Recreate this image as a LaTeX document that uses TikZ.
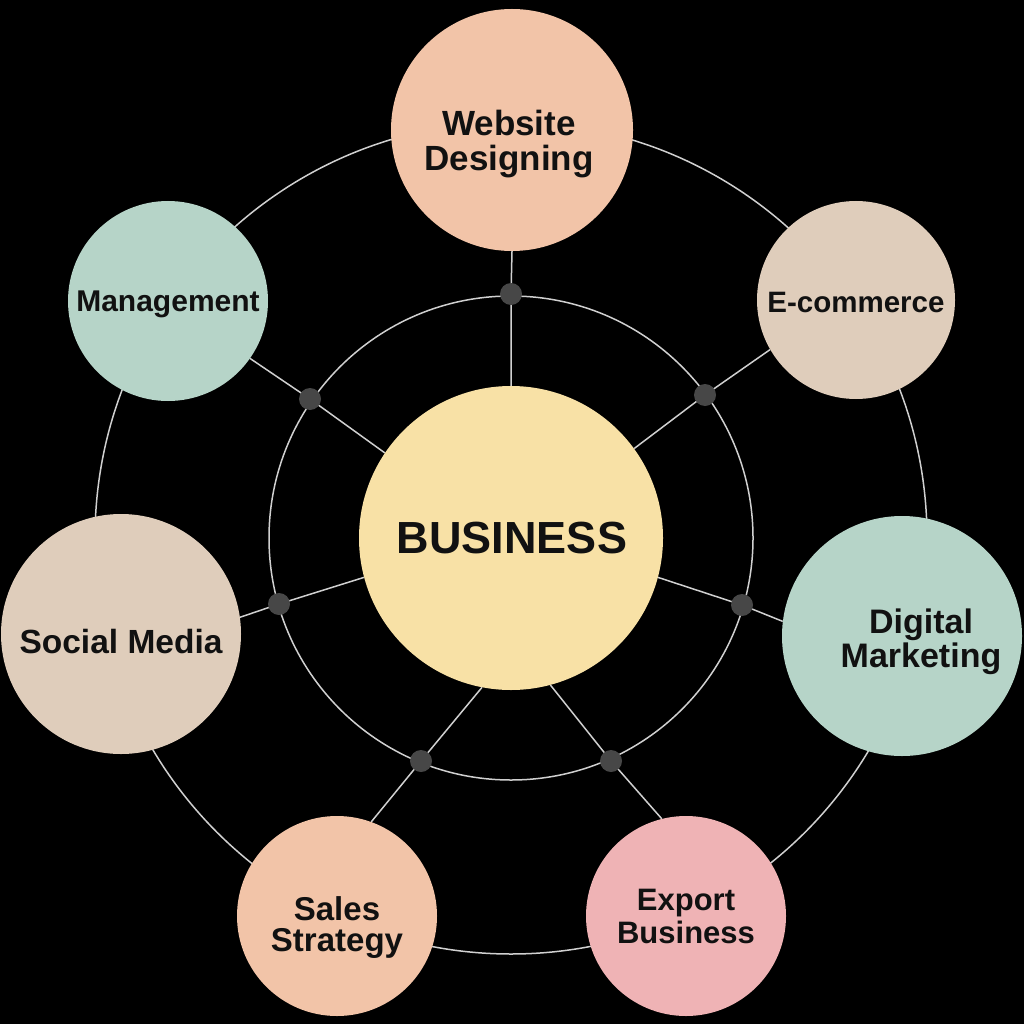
\documentclass[tikz,border=0pt]{standalone}
\usepackage{fontspec}
\setmainfont{Liberation Sans}
\usetikzlibrary{backgrounds}
\definecolor{bgc}{HTML}{000000}
\definecolor{peach}{HTML}{F2C4A8}
\definecolor{beige}{HTML}{DFCDBB}
\definecolor{mint}{HTML}{B6D4C8}
\definecolor{pinkc}{HTML}{EFB3B5}
\definecolor{yel}{HTML}{F8E1A6}
\definecolor{dotc}{HTML}{474747}
\definecolor{linec}{HTML}{D0D0D0}
\definecolor{txt}{HTML}{111111}
\begin{document}
\begin{tikzpicture}[x=1pt,y=-1pt,
  bubble/.style={circle,draw=none,inner sep=0pt,minimum size=#1},
  dotn/.style={circle,fill=dotc,draw=none,inner sep=0pt,minimum size=22pt},
  ringline/.style={draw=linec,line width=1.5pt},
  spoke/.style={draw=linec,line width=1.5pt},
  lbl/.style={text=txt,font=\bfseries\fontsize{#1}{#1}\selectfont,inner sep=0pt,anchor=base}]
\useasboundingbox (0,0) rectangle (1024,1024);

% circles
\node[bubble=304pt,fill=yel] (biz) at (511,538) {};
\node[bubble=242pt,fill=peach] (web) at (512,130) {};
\node[bubble=198pt,fill=beige] (ecom) at (856,300) {};
\node[bubble=200pt,fill=mint] (man) at (168,301) {};
\node[bubble=240pt,fill=beige] (soc) at (121,634) {};
\node[bubble=240pt,fill=mint] (dig) at (902,636) {};
\node[bubble=200pt,fill=peach] (sal) at (337,916) {};
\node[bubble=200pt,fill=pinkc] (exp) at (686,916) {};

% junction dots
\node[dotn] (d1) at (511,294) {};
\node[dotn] (d2) at (705,395) {};
\node[dotn] (d3) at (742,605) {};
\node[dotn] (d4) at (611,761) {};
\node[dotn] (d5) at (421,761) {};
\node[dotn] (d6) at (279,604) {};
\node[dotn] (d7) at (310,399) {};

% labels
\node[lbl=45] (tbiz) at (512,553) {BUSINESS};
\node[lbl=35] (tweb1) at (509,136) {Website};
\node[lbl=35] (tweb2) at (509,171) {Designing};
\node[lbl=29.5] (tecom) at (856,312) {E-commerce};
\node[lbl=30] (tman) at (168,311) {Management};
\node[lbl=33.5] (tsoc) at (121,653) {Social Media};
\node[lbl=34] (tdig1) at (921,633) {Digital};
\node[lbl=34] (tdig2) at (921,667) {Marketing};
\node[lbl=33] (tsal1) at (337,920) {Sales};
\node[lbl=33] (tsal2) at (337,951) {Strategy};
\node[lbl=31] (texp1) at (686,910) {Export};
\node[lbl=31] (texp2) at (686,943) {Business};

% rings and spokes behind everything
\begin{scope}[on background layer]
\fill[bgc] (0,0) rectangle (1024,1024);
\draw[ringline] (biz.center) circle[radius=416pt];
\draw[ringline] (biz.center) circle[radius=242pt];
\draw[spoke] (biz.90) -- (d1.center) -- (web.270);
\draw[spoke] (biz.36) -- (d2.center) -- (ecom.210);
\draw[spoke] (biz.-15) -- (d3.center) -- (dig.173);
\draw[spoke] (biz.-75) -- (d4.center) -- (exp.104);
\draw[spoke] (biz.259) -- (d5.center) -- (sal.70);
\draw[spoke] (biz.195) -- (d6.center) -- (soc.8);
\draw[spoke] (biz.146) -- (d7.center) -- (man.-35);
\end{scope}
\end{tikzpicture}
\end{document}
